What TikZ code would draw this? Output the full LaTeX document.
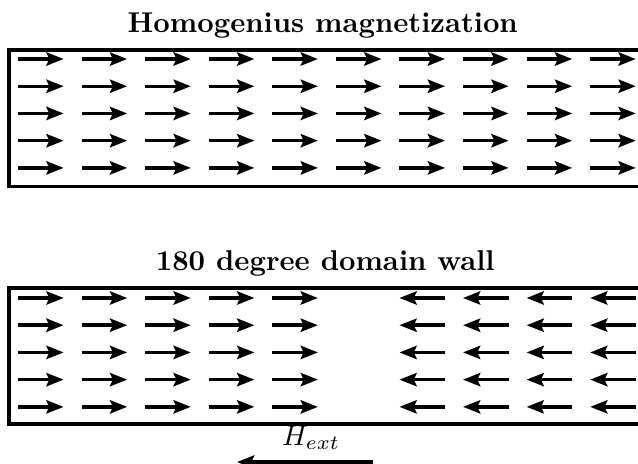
\documentclass[tikz,border=0pt]{standalone}
\usetikzlibrary{arrows.meta}

\begin{document}
\begin{tikzpicture}[
  spin/.style={-{Stealth[length=6pt, width=4.6pt, inset=1pt]}, line width=1.2pt},
  sample/.style={draw, line width=1.2pt},
  heading/.style={font=\bfseries, anchor=base},
  fieldlabel/.style={anchor=base}
]
\useasboundingbox (0, 0) rectangle (7.828, 5.681);
\clip (0, 0) rectangle (7.828, 5.681);

% Homogeneous state
\node[heading] (title1) at (3.96, 5.288) {Homogenius magnetization};
\draw[sample] (0.110, 3.393) rectangle (7.86, 5.067);
\foreach \row in {0,...,4} {
  \foreach \col in {0,...,9} {
    \draw[spin] ({0.221+0.780*\col}, {4.957-0.334*\row}) -- ++(0.56, 0);
  }
}

% Domain wall
\node[heading] (title2) at (3.99, 2.368) {180 degree domain wall};
\draw[sample] (0.110, 0.479) rectangle (7.86, 2.147);
\foreach \row in {0,...,4} {
  \foreach \col in {0,...,4} {
    \draw[spin] ({0.221+0.780*\col}, {2.025-0.334*\row}) -- ++(0.56, 0);
  }
  \foreach \col in {6,...,9} {
    \draw[spin] ({0.781+0.780*\col}, {2.025-0.334*\row}) -- ++(-0.56, 0);
  }
}

% External field
\coordinate (hstart) at (4.577, 0.012);
\coordinate (hend) at (2.908, 0.012);
\draw[spin] (hstart) -- (hend);
\node[fieldlabel] (hlabel) at (3.816, 0.221) {$H_{ext}$};

\end{tikzpicture}
\end{document}
